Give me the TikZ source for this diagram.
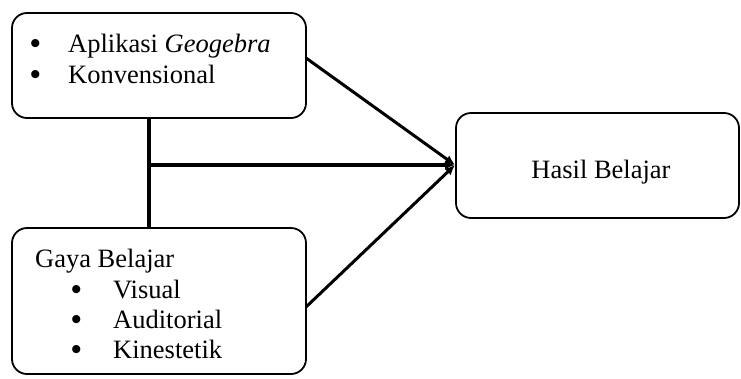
\documentclass[tikz,border=0pt]{standalone}
\usepackage{fontspec}
\setmainfont{Liberation Serif}
\usetikzlibrary{arrows.meta}
\begin{document}
\begin{tikzpicture}[x=1pt,y=-1pt,
  box/.style={draw, line width=1.8pt, rounded corners=15pt, inner sep=0pt},
  txt/.style={anchor=base west, inner sep=0pt, font=\fontsize{26.5}{30}\selectfont},
  bul/.style={txt, font=\fontsize{30}{30}\selectfont\bfseries},
  link/.style={line width=3.4pt, -{Latex[length=10pt,width=9pt]}}]
\useasboundingbox (0,0) rectangle (741,378);
\node[box, minimum width=294pt, minimum height=105pt] (b1) at (159,65.5) {};
\node[box, minimum width=294pt, minimum height=146pt] (b2) at (159,301) {};
\node[box, minimum width=283pt, minimum height=105pt] (b3) at (597.5,165.5) {};
% texts
\node[bul] (t1b) at (30,53) {•};
\node[txt] (t1) at (68,52) {Aplikasi \textit{Geogebra}};
\node[bul] (t2b) at (30,84) {•};
\node[txt] (t2) at (68,83) {Konvensional};
\node[txt] (g) at (35,267) {Gaya Belajar};
\node[bul] (v1b) at (71,299) {•};
\node[txt] (v1) at (113,298) {Visual};
\node[bul] (v2b) at (71,329) {•};
\node[txt] (v2) at (113,328) {Auditorial};
\node[bul] (v3b) at (71,359) {•};
\node[txt] (v3) at (113,358) {Kinestetik};
\node[txt, anchor=base] (h) at (601,178) {Hasil Belajar};
% connectors
\coordinate (j) at (149,165);
\coordinate (s1) at (306,58);
\coordinate (s2) at (306,307);
\coordinate (tip) at (455,165);
\draw[line width=3.4pt] (b1.south -| j) -- (b2.north -| j);
\draw[link] (j) -- (tip);
\draw[link, line width=3pt] (s1) -- (tip);
\draw[link, line width=3pt] (s2) -- (tip);
\end{tikzpicture}
\end{document}
